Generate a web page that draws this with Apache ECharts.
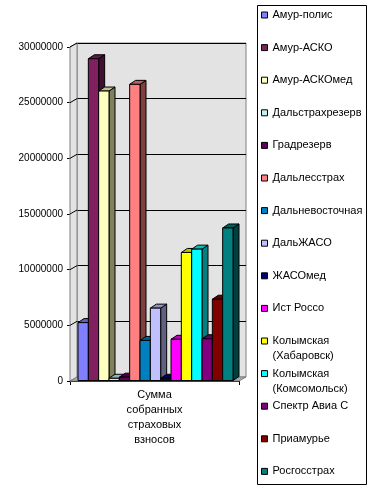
<!DOCTYPE html>
<html>
<head>
<meta charset="utf-8">
<script src="https://cdn.jsdelivr.net/npm/echarts@6/dist/echarts.min.js"></script>
<style>
html, body { margin: 0; padding: 0; background: #fff; }
#grafico { width: 377px; height: 488px; }
</style>
</head>
<body>
<div id="grafico"></div>
<script>
var categoria = ['Сумма собранных страховых взносов'];
var nomes = ['Амур-полис', 'Амур-АСКО', 'Амур-АСКОмед', 'Дальстрахрезерв', 'Градрезерв', 'Дальлесстрах', 'Дальневосточная', 'ДальЖАСО', 'ЖАСОмед', 'Ист Россо', 'Колымская (Хабаровск)', 'Колымская (Комсомольск)', 'Спектр Авиа С', 'Приамурье', 'Росгосстрах'];
var valores = [5200000, 28900000, 26000000, 200000, 300000, 26600000, 3600000, 6500000, 200000, 3700000, 11500000, 11800000, 3750000, 7300000, 13700000];
var cores = ['#8080ff', '#802060', '#ffffc0', '#c0f0f0', '#600060', '#ff8080', '#0080c0', '#c0c0ff', '#000080', '#ff00ff', '#ffff00', '#00ffff', '#800080', '#800000', '#008080'];
var ticksY = [0, 5000000, 10000000, 15000000, 20000000, 25000000, 30000000];

var fonte = '"Liberation Sans", Arial, sans-serif';
var DX = 7, DY = -4;   // profundidade das paredes
var BX = 6, BY = -4;   // profundidade das barras

function escurece(hex, f) {
  var r = parseInt(hex.substr(1, 2), 16), g = parseInt(hex.substr(3, 2), 16), b = parseInt(hex.substr(5, 2), 16);
  return 'rgb(' + Math.round(r * f) + ',' + Math.round(g * f) + ',' + Math.round(b * f) + ')';
}

function desenhaBarra(params, api) {
  var i = nomes.indexOf(params.seriesName);
  var base = api.coord([api.value(0), 0]);
  var topo = api.coord([api.value(0), api.value(1)]);
  var banda = api.size([1, 0])[0];
  var larg = (banda - 14) / nomes.length;
  var x0 = base[0] - banda / 2 + 8 + i * larg;
  var x1 = x0 + larg;
  var y0 = base[1] - 0.5;
  var y1 = topo[1] - 0.5;
  var cor = cores[i];
  return {
    type: 'group',
    children: [
      { type: 'polygon', shape: { points: [[x1, y0], [x1 + BX, y0 + BY], [x1 + BX, y1 + BY], [x1, y1]] },
        style: { fill: escurece(cor, 0.5), stroke: '#000', lineWidth: 1 } },
      { type: 'polygon', shape: { points: [[x0, y1], [x0 + BX, y1 + BY], [x1 + BX, y1 + BY], [x1, y1]] },
        style: { fill: escurece(cor, 0.75), stroke: '#000', lineWidth: 1 } },
      { type: 'rect', shape: { x: x0, y: y1, width: larg, height: y0 - y1 },
        style: { fill: cor, stroke: '#000', lineWidth: 1 } }
    ]
  };
}

function linhaLateral(params, api) {
  var p = api.coord([0, api.value(0)]);
  var banda = api.size([1, 0])[0];
  var x = p[0] - banda / 2;
  return { type: 'line', shape: { x1: x, y1: p[1], x2: x + DX, y2: p[1] + DY },
    style: { stroke: '#000', lineWidth: 1 } };
}

var chartDom = document.getElementById('grafico');
var myChart = echarts.init(chartDom);
var option;

var series = nomes.map(function (n, i) {
  return {
    name: n,
    type: 'custom',
    xAxisIndex: 0,
    yAxisIndex: 0,
    z: 4,
    itemStyle: { color: cores[i] },
    renderItem: desenhaBarra,
    encode: { x: 0, y: 1 },
    data: [[0, valores[i]]]
  };
});
series.push({
  name: 'lateral',
  type: 'custom',
  xAxisIndex: 0,
  yAxisIndex: 0,
  z: 3,
  renderItem: linhaLateral,
  encode: { y: 0 },
  data: ticksY.slice(1).map(function (v) { return [v]; })
});

// legenda: um item por componente, quadrados em passo fixo
var legendas = nomes.map(function (n, i) {
  var duas = n.indexOf(' (') > 0;
  var c = 15 + 32.6 * i;
  return {
    data: [n],
    left: 261,
    top: duas ? c - 22.5 : c - 7.5,
    padding: 0,
    icon: 'rect',
    itemWidth: 6,
    itemHeight: 6,
    selectedMode: false,
    itemStyle: { borderColor: '#000', borderWidth: 1 },
    formatter: function (t) { return t.indexOf(' (') > 0 ? '\n' + t.replace(' (', '\n(') : t; },
    textStyle: { fontFamily: fonte, fontSize: 11, color: '#000', lineHeight: 15 }
  };
});

option = {
  animation: false,
  backgroundColor: '#fff',
  textStyle: { fontFamily: fonte },
  legend: legendas,
  grid: [
    { left: 70, top: 47, width: 169, height: 334 },
    { left: 77, top: 43, width: 169, height: 334, show: true, backgroundColor: '#e3e3e3', borderColor: '#808080', borderWidth: 1 }
  ],
  graphic: [
    { type: 'polygon', z: 1, shape: { points: [[70, 47], [77, 43], [77, 377], [70, 381]] },
      style: { fill: '#e3e3e3', stroke: '#808080', lineWidth: 1 } },
    { type: 'polygon', z: 1, shape: { points: [[70, 381], [77, 377], [246, 377], [239, 381]] },
      style: { fill: '#a8a8a8', stroke: '#808080', lineWidth: 1 } },
    { type: 'rect', z: 1, shape: { x: 257.5, y: 5.5, width: 109, height: 479 },
      style: { fill: 'none', stroke: '#000', lineWidth: 1 } }
  ],
  xAxis: [
    {
      type: 'category',
      gridIndex: 0,
      data: categoria,
      axisLine: { lineStyle: { color: '#000' } },
      axisTick: { show: true, length: 4, lineStyle: { color: '#000' } },
      axisLabel: {
        interval: 0, margin: 6, color: '#000', fontSize: 11, lineHeight: 15, fontFamily: fonte,
        formatter: function (v) { return v.split(' ').join('\n'); }
      }
    },
    { type: 'category', gridIndex: 1, data: categoria, show: false }
  ],
  yAxis: [
    {
      type: 'value',
      gridIndex: 0,
      min: 0,
      max: 30000000,
      interval: 5000000,
      axisLine: { show: true, lineStyle: { color: '#000' } },
      axisTick: { show: true, length: 3, lineStyle: { color: '#000' } },
      axisLabel: { color: '#000', fontSize: 10, margin: 7, fontFamily: fonte,
        formatter: function (v) { return String(v); } },
      splitLine: { show: false }
    },
    {
      type: 'value',
      gridIndex: 1,
      min: 0,
      max: 30000000,
      interval: 5000000,
      axisLine: { show: false },
      axisTick: { show: false },
      axisLabel: { show: false },
      splitLine: { show: true, lineStyle: { color: '#000', width: 1 } }
    }
  ],
  series: series
};

option && myChart.setOption(option);
</script>
</body>
</html>
